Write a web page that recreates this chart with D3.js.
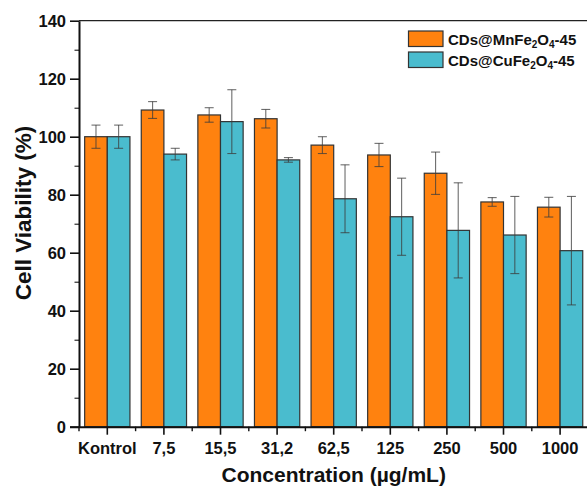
<!DOCTYPE html>
<html><head><meta charset="utf-8">
<script src="https://cdn.jsdelivr.net/npm/d3@7/dist/d3.min.js"></script>
<style>
html,body{margin:0;padding:0;background:#fff;}
svg text{font-family:Arial,"Liberation Sans",Helvetica,sans-serif;font-weight:bold;fill:#111;}
</style></head>
<body><svg id="c" width="587" height="490"></svg>
<script>
const categories = ["Kontrol","7,5","15,5","31,2","62,5","125","250","500","1000"];
const seriesNames = ["CDs@MnFe2O4-45","CDs@CuFe2O4-45"];
const mnValues = [100, 109.2, 107.5, 106.2, 97.1, 93.7, 87.4, 77.5, 75.7];
const mnErrors = [4, 2.9, 2.5, 3.2, 2.9, 4, 7.3, 1.5, 3.4];
const cuValues = [100, 94.0, 105.2, 92.0, 78.6, 72.4, 67.7, 66.1, 60.7];
const cuErrors = [4, 2, 11, 0.8, 11.7, 13.3, 16.4, 13.3, 18.7];
const yTicks = [0,20,40,60,80,100,120,140];
const yMinorTicks = [10,30,50,70,90,110,130];
const colors = ["#FF820F","#4ABCCE"];

const svg = d3.select("#c");
const mLeft = 79, mTop = 20.7, mBottom = 426.7, step = 56.6;
const mRight = mLeft + step*categories.length;

const x = d3.scaleBand().domain(categories).range([mLeft, mRight]).padding(0);
const x1 = d3.scaleBand().domain(seriesNames).range([0, x.bandwidth()]).paddingInner(0).paddingOuter(0.25);
const y = d3.scaleLinear().domain([0,140]).range([mBottom, mTop]);

const data = categories.map((c,i)=>({cat:c, vals:[
  {s:seriesNames[0], v:mnValues[i], e:mnErrors[i], col:colors[0]},
  {s:seriesNames[1], v:cuValues[i], e:cuErrors[i], col:colors[1]}]}));

// top frame
svg.append("line").attr("x1",mLeft).attr("x2",587).attr("y1",y(140)).attr("y2",y(140))
  .attr("stroke","#222").attr("stroke-width",1.2);

const g = svg.selectAll("g.grp").data(data).join("g").attr("class","grp")
  .attr("transform",d=>`translate(${x(d.cat)},0)`);
g.selectAll("rect").data(d=>d.vals).join("rect")
  .attr("x",d=>x1(d.s)).attr("width",x1.bandwidth())
  .attr("y",d=>y(d.v)).attr("height",d=>y(0)-y(d.v))
  .attr("fill",d=>d.col).attr("stroke","#333").attr("stroke-width",1.2);

// error bars
const eb = g.selectAll("g.eb").data(d=>d.vals).join("g").attr("class","eb")
  .attr("stroke","rgba(60,60,60,0.75)").attr("stroke-width",1.1);
eb.append("line").attr("x1",d=>x1(d.s)+x1.bandwidth()/2).attr("x2",d=>x1(d.s)+x1.bandwidth()/2)
  .attr("y1",d=>y(d.v+d.e)).attr("y2",d=>y(d.v-d.e));
eb.append("line").attr("x1",d=>x1(d.s)+x1.bandwidth()/2-4.5).attr("x2",d=>x1(d.s)+x1.bandwidth()/2+4.5)
  .attr("y1",d=>y(d.v+d.e)).attr("y2",d=>y(d.v+d.e));
eb.append("line").attr("x1",d=>x1(d.s)+x1.bandwidth()/2-4.5).attr("x2",d=>x1(d.s)+x1.bandwidth()/2+4.5)
  .attr("y1",d=>y(d.v-d.e)).attr("y2",d=>y(d.v-d.e));

// y axis
const yAxis = svg.append("g").attr("transform",`translate(${mLeft},0)`)
  .call(d3.axisLeft(y).tickValues(yTicks).tickSize(9).tickPadding(4).tickSizeOuter(0));
svg.append("g").attr("transform",`translate(${mLeft},0)`)
  .call(d3.axisLeft(y).tickValues(yMinorTicks).tickSize(4.5).tickFormat("").tickSizeOuter(0))
  .call(a=>a.select(".domain").remove());
yAxis.select(".domain").attr("stroke-width",2).attr("stroke","#111");
yAxis.selectAll(".tick line").attr("stroke-width",1.6).attr("stroke","#111");
yAxis.selectAll("text").style("font-size","16.5px").attr("dy","0.35em");

// x axis
const xAxis = svg.append("g").attr("transform",`translate(0,${mBottom})`)
  .call(d3.axisBottom(x).tickSize(8).tickPadding(8).tickSizeOuter(0));
xAxis.select(".domain").attr("stroke-width",2).attr("stroke","#111").attr("d",`M${mLeft-9},0.5H${mRight}`);
xAxis.selectAll(".tick line").attr("stroke-width",1.6).attr("stroke","#111");
xAxis.selectAll("text").style("font-size","16.5px");
const minorX = categories.map(c=>x(c));
svg.append("g").selectAll("line").data(minorX).join("line")
  .attr("x1",d=>d).attr("x2",d=>d).attr("y1",mBottom).attr("y2",mBottom+4.5)
  .attr("stroke","#111").attr("stroke-width",1.4);

// titles
svg.append("text").attr("x",(mLeft+mRight)/2).attr("y",482).attr("text-anchor","middle")
  .style("font-size","21px").text("Concentration (µg/mL)");
svg.append("text").attr("transform","translate(30.5,213) rotate(-90)").attr("text-anchor","middle")
  .style("font-size","22.5px").text("Cell Viability (%)");

// legend
const legendLabels = [["CDs@MnFe","2","O","4","-45"],["CDs@CuFe","2","O","4","-45"]];
const lg = svg.append("g");
legendLabels.forEach((parts,i)=>{
  const yy = 31 + i*21;
  lg.append("rect").attr("x",408.5).attr("y",yy).attr("width",34.5).attr("height",15.5)
    .attr("fill",colors[i]).attr("stroke","#333").attr("stroke-width",1.2);
  const t = lg.append("text").attr("x",448).attr("y",yy+14).style("font-size","15px");
  t.append("tspan").text(parts[0]);
  t.append("tspan").attr("dy",3).style("font-size","10px").text(parts[1]);
  t.append("tspan").attr("dy",-3).text(parts[2]);
  t.append("tspan").attr("dy",3).style("font-size","10px").text(parts[3]);
  t.append("tspan").attr("dy",-3).text(parts[4]);
});
</script></body></html>
